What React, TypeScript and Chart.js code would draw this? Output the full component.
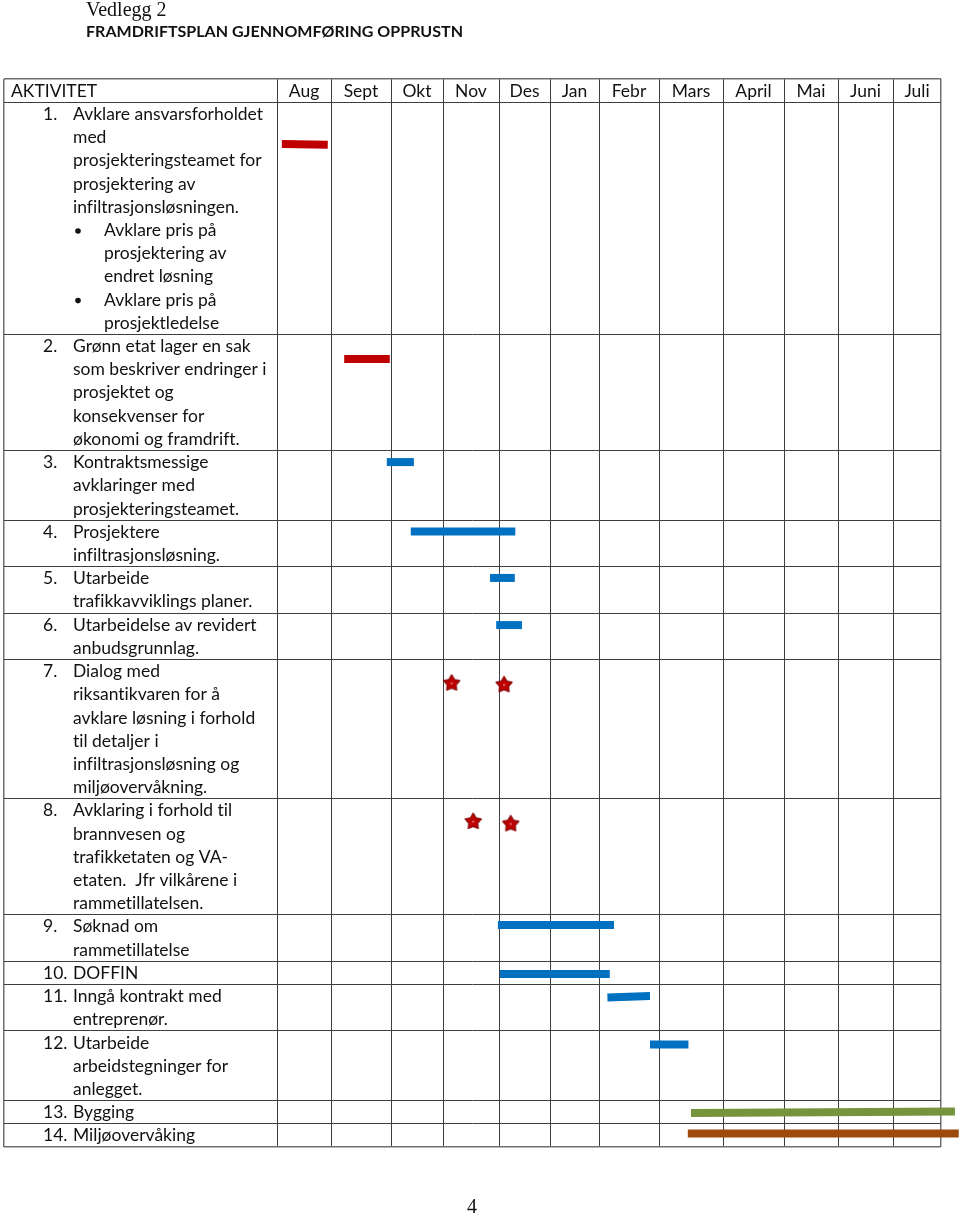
import React, { useEffect, useRef } from 'react';
import { Chart, registerables, LinearScale } from 'chart.js';

Chart.register(...registerables);

// ---------- DATA ----------
const pageLabel = 'Vedlegg 2';
const planTitle = 'FRAMDRIFTSPLAN GJENNOMFØRING OPPRUSTN';
const pageNumber = '4';
const headerLabel = 'AKTIVITET';
const months = ['Aug', 'Sept', 'Okt', 'Nov', 'Des', 'Jan', 'Febr', 'Mars', 'April', 'Mai', 'Juni', 'Juli'];

const activityNumbers = ['1.', '2.', '3.', '4.', '5.', '6.', '7.', '8.', '9.', '10.', '11.', '12.', '13.', '14.'];
const activityText: string[][] = [
  ['Avklare ansvarsforholdet', 'med', 'prosjekteringsteamet for', 'prosjektering av', 'infiltrasjonsløsningen.'],
  ['Grønn etat lager en sak', 'som beskriver endringer i', 'prosjektet og', 'konsekvenser for', 'økonomi og framdrift.'],
  ['Kontraktsmessige', 'avklaringer med', 'prosjekteringsteamet.'],
  ['Prosjektere', 'infiltrasjonsløsning.'],
  ['Utarbeide', 'trafikkavviklings planer.'],
  ['Utarbeidelse av revidert', 'anbudsgrunnlag.'],
  ['Dialog med', 'riksantikvaren for å', 'avklare løsning i forhold', 'til detaljer i', 'infiltrasjonsløsning og', 'miljøovervåkning.'],
  ['Avklaring i forhold til', 'brannvesen og', 'trafikketaten og VA-', 'etaten.  Jfr vilkårene i', 'rammetillatelsen.'],
  ['Søknad om', 'rammetillatelse'],
  ['DOFFIN'],
  ['Inngå kontrakt med', 'entreprenør.'],
  ['Utarbeide', 'arbeidstegninger for', 'anlegget.'],
  ['Bygging'],
  ['Miljøovervåking'],
];
const activityBullets: string[][][] = [
  [['Avklare pris på', 'prosjektering av', 'endret løsning'], ['Avklare pris på', 'prosjektledelse']],
  [], [], [], [], [], [], [], [], [], [], [], [], [],
];

// Bars: x in months (0 = start of Aug), y in text-line units from the top of the table
const barActivity = [1, 2, 3, 4, 5, 6, 9, 10, 11, 12, 13, 14];
const barFrom = [0.09, 1.22, 1.93, 2.38, 3.84, 3.95, 3.98, 4.02, 6.14, 6.85, 7.5, 7.45];
const barTo = [0.94, 1.98, 2.44, 4.32, 4.31, 4.45, 6.25, 6.18, 6.85, 7.46, 12.29, 12.37];
const barLevelFrom = [2.8, 12.06, 16.5, 19.49, 21.49, 23.52, 36.44, 38.55, 39.56, 41.59, 44.54, 45.42];
const barLevelTo = [2.83, 12.06, 16.5, 19.49, 21.49, 23.52, 36.44, 38.55, 39.5, 41.59, 44.47, 45.42];
const barPhase = ['avklaring', 'avklaring', 'prosjekt', 'prosjekt', 'prosjekt', 'prosjekt', 'prosjekt', 'prosjekt', 'prosjekt', 'prosjekt', 'bygging', 'miljo'];

// Milestones (stars)
const milestoneActivity = [7, 7, 8, 8];
const milestoneX = [3.155, 4.1, 3.54, 4.23];
const milestoneY = [26.0, 26.07, 31.96, 32.06];

// ---------- LAYOUT / STYLE ----------
const phaseColors: Record<string, string> = {
  avklaring: '#C00000',
  prosjekt: '#0070C0',
  bygging: '#77933C',
  miljo: '#9E4A0A',
};
// relative column widths: activity column, then the 12 months
const columnWeights = [273, 54, 60, 52, 56, 51, 49, 60, 64, 61, 54, 55, 48];
const columnEdges: number[] = [0];
columnWeights.forEach((w, i) => columnEdges.push(columnEdges[i] + w));
const totalWeight = columnEdges[columnEdges.length - 1];

const rowLineCounts = activityText.map((t, i) =>
  t.length + activityBullets[i].reduce((s, b) => s + b.length, 0));
const rowStarts: number[] = [1];
rowLineCounts.forEach((n, i) => rowStarts.push(rowStarts[i] + n));
const totalLines = rowStarts[rowStarts.length - 1];

const BODY_FONT = '17px Lato';
const TITLE_FONT = 'bold 15px Lato';
const SERIF_FONT = '20px "Liberation Serif", "Times New Roman", serif';
const TEXT_COLOR = '#111111';
const INNER_GRID = '#3e3e3e';
const OUTER_GRID = '#6f6f6f';

function valueToDecimal(v: number): number {
  let i = Math.floor(v) + 1;
  if (i < 0) i = 0;
  if (i > columnWeights.length - 1) i = columnWeights.length - 1;
  const start = i - 1;
  return (columnEdges[i] + (v - start) * columnWeights[i]) / totalWeight;
}

class ColumnScale extends LinearScale {
  static id = 'column';
  static defaults = {};
  getPixelForValue(value: number) {
    return this.getPixelForDecimal(valueToDecimal(value));
  }
  getValueForPixel(pixel: number) {
    const d = this.getDecimalForPixel(pixel) * totalWeight;
    let i = 0;
    while (i < columnWeights.length - 1 && d > columnEdges[i + 1]) i++;
    return i - 1 + (d - columnEdges[i]) / columnWeights[i];
  }
}
Chart.register(ColumnScale as any);

function makeStar(): HTMLCanvasElement {
  const c = document.createElement('canvas');
  c.width = 20;
  c.height = 20;
  const g = c.getContext('2d')!;
  g.beginPath();
  for (let i = 0; i < 10; i++) {
    const r = i % 2 === 0 ? 8.4 : 4.7;
    const a = -Math.PI / 2 + (i * Math.PI) / 5;
    const px = 10 + r * Math.cos(a);
    const py = 10.6 + r * Math.sin(a);
    if (i === 0) g.moveTo(px, py);
    else g.lineTo(px, py);
  }
  g.closePath();
  g.fillStyle = '#C00000';
  g.fill();
  g.lineJoin = 'round';
  g.lineWidth = 1.3;
  g.strokeStyle = '#8C0A0A';
  g.stroke();
  g.beginPath();
  g.arc(10, 10.6, 1.2, 0, Math.PI * 2);
  g.fillStyle = '#D96B6B';
  g.fill();
  return c;
}

function fitText(ctx: CanvasRenderingContext2D, text: string, x: number, y: number, sx: number) {
  ctx.save();
  ctx.translate(x, y);
  ctx.scale(sx, 1);
  ctx.fillText(text, 0, 0);
  ctx.restore();
}

const tablePlugin = {
  id: 'tableText',
  afterDraw(chart: any) {
    const ctx: CanvasRenderingContext2D = chart.ctx;
    const ys = chart.scales.y;
    const xs = chart.scales.x;
    const left = chart.chartArea.left;
    ctx.save();
    (ctx as any).textRendering = 'optimizeSpeed';
    ctx.fillStyle = TEXT_COLOR;
    ctx.textBaseline = 'alphabetic';

    // page header
    ctx.font = SERIF_FONT;
    ctx.textAlign = 'left';
    ctx.fillText(pageLabel, 86, 16);
    ctx.font = TITLE_FONT;
    const tw = ctx.measureText(planTitle).width;
    fitText(ctx, planTitle, 86, 36.5, 377 / tw);

    // body font scale to mimic the narrower original typeface
    ctx.font = BODY_FONT;
    const sx = 190 / ctx.measureText('Avklare ansvarsforholdet').width;
    const base = (line: number) => ys.getPixelForValue(line + 0.76);

    // header row
    ctx.textAlign = 'left';
    fitText(ctx, headerLabel, left + 7, base(0), sx);
    ctx.textAlign = 'center';
    months.forEach((m, i) => {
      const cx = (xs.getPixelForValue(i) + xs.getPixelForValue(i + 1)) / 2;
      fitText(ctx, m, cx, base(0), sx);
    });

    // activity rows
    ctx.textAlign = 'left';
    activityText.forEach((lines, r) => {
      let line = rowStarts[r];
      fitText(ctx, activityNumbers[r], left + 39, base(line), sx);
      lines.forEach((t) => {
        fitText(ctx, t, left + 69, base(line), sx);
        line++;
      });
      activityBullets[r].forEach((bl) => {
        bl.forEach((t, k) => {
          if (k === 0) {
            ctx.beginPath();
            ctx.arc(left + 74, base(line) - 5, 2.8, 0, Math.PI * 2);
            ctx.fill();
          }
          fitText(ctx, t, left + 100, base(line), sx);
          line++;
        });
      });
    });

    // page number
    ctx.font = SERIF_FONT;
    ctx.textAlign = 'center';
    ctx.fillText(pageNumber, 472, 1213);
    ctx.restore();
  },
};

export default function App() {
  const ref = useRef<HTMLCanvasElement | null>(null);

  useEffect(() => {
    if (!ref.current) return;
    const star = makeStar();
    const barSets = barActivity.map((a, i) => ({
      label: `Aktivitet ${a}`,
      data: [
        { x: barFrom[i], y: barLevelFrom[i] },
        { x: barTo[i], y: barLevelTo[i] },
      ],
      showLine: true,
      borderColor: phaseColors[barPhase[i]],
      borderWidth: 8,
      borderCapStyle: 'butt',
      pointRadius: 0,
      clip: false,
    }));
    const starSet = {
      label: 'Milepæl',
      data: milestoneX.map((x, i) => ({ x, y: milestoneY[i], a: milestoneActivity[i] })),
      showLine: false,
      pointStyle: star,
      pointRadius: 9,
      clip: false,
    };
    const xEdges = columnEdges.map((_, i) => i - 1);
    const yEdges = [0, ...rowStarts];
    const gridColor = (n: number) => (c: any) => (c.index === 0 || c.index === n - 1 ? OUTER_GRID : INNER_GRID);
    const gridWidth = (n: number) => (c: any) => (c.index === 0 || c.index === n - 1 ? 1.5 : 1);

    const chart = new Chart(ref.current, {
      type: 'scatter',
      data: { datasets: [...barSets, starSet] as any },
      options: {
        responsive: false,
        animation: false,
        devicePixelRatio: 1,
        events: [],
        layout: { autoPadding: false, padding: { left: 4, top: 79, right: 19, bottom: 68 } },
        plugins: { legend: { display: false }, tooltip: { enabled: false } },
        scales: {
          x: {
            type: 'column' as any,
            min: -1,
            max: 12,
            ticks: { display: false },
            border: { display: false },
            grid: { drawTicks: false, color: gridColor(xEdges.length), lineWidth: gridWidth(xEdges.length) },
            afterBuildTicks: (s: any) => {
              s.ticks = xEdges.map((v) => ({ value: v }));
            },
          },
          y: {
            type: 'linear',
            reverse: true,
            min: 0,
            max: totalLines,
            ticks: { display: false },
            border: { display: false },
            grid: { drawTicks: false, color: gridColor(yEdges.length), lineWidth: gridWidth(yEdges.length) },
            afterBuildTicks: (s: any) => {
              s.ticks = yEdges.map((v) => ({ value: v }));
            },
          },
        },
      } as any,
      plugins: [tablePlugin],
    });
    return () => chart.destroy();
  }, []);

  return (
    <div style={{ position: 'absolute', left: 0, top: 0, width: 960, height: 1215, background: '#fff' }}>
      <canvas ref={ref} width={960} height={1215} style={{ display: 'block' }} />
    </div>
  );
}
